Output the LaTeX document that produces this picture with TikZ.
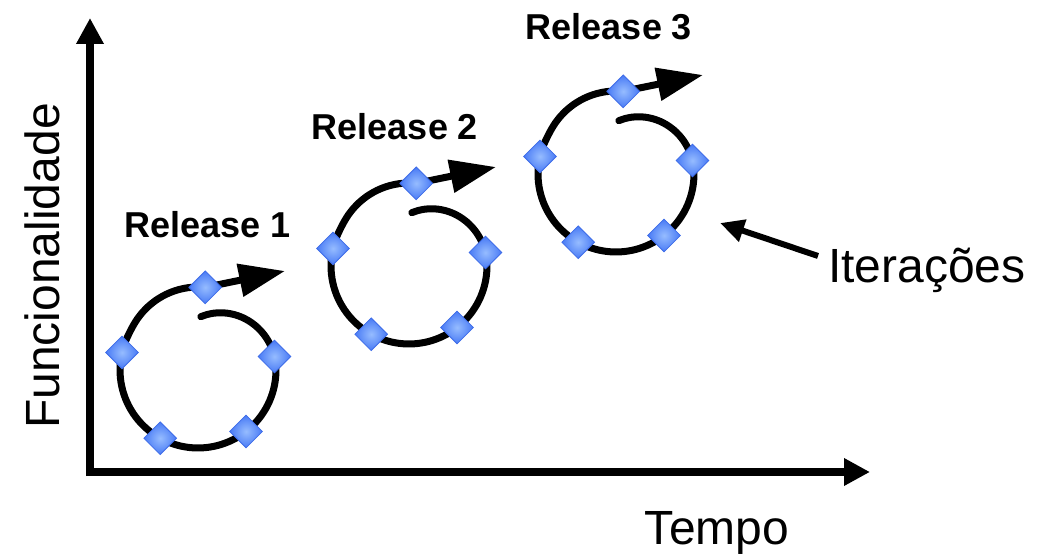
\documentclass[tikz,border=0pt]{standalone}
\usepackage{fontspec}
\setmainfont{Liberation Sans}
\usetikzlibrary{arrows.meta,shapes.geometric}
\definecolor{dia}{RGB}{92,142,250}
\definecolor{dialight}{RGB}{150,188,255}
\definecolor{diaout}{RGB}{72,122,245}
\definecolor{diadark}{RGB}{62,108,232}
\newcommand\drawspiral[3]{%
\begin{scope}[shift={(#2,#3)}]
 \coordinate (#1s) at ({198+rr(3)*sin(3)},{370-rr(3)*cos(3)});
 \coordinate (#1r) at ({198+rr(80)*sin(80)},{370-rr(80)*cos(80)});
 \coordinate (#1br) at ({198+rr(142)*sin(142)},{370-rr(142)*cos(142)});
 \coordinate (#1bl) at ({198+rr(209)*sin(209)},{370-rr(209)*cos(209)});
 \coordinate (#1l) at ({198+rr(283)*sin(283)},{370-rr(283)*cos(283)});
 \coordinate (#1t) at ({198+rr(365)*sin(365)},{370-rr(365)*cos(365)});
 \coordinate (#1tip) at (285,271);
 \draw[spiral] plot[smooth,variable=\p,domain=3:365,samples=60] ({198+rr(\p)*sin(\p)},{370-rr(\p)*cos(\p)});
 \draw[spiralarrow] (#1t) -- (#1tip);
 \foreach \n in {r,br,bl,l,t} \node[diabox] (#1\n-d) at (#1\n) {};
\end{scope}}
\begin{document}
\begin{tikzpicture}[x=1pt,y=-1pt,
 declare function={rr(\t)=(\t<90) ? 52+26*sin(\t) : ((\t<300) ? 78 : 78+5*sin((\t-300)*1.5));},
 axis/.style={line width=8pt,-{Triangle[length=26pt,width=26pt]}},
 spiral/.style={line width=7pt,line cap=round},
 spiralarrow/.style={line width=7pt,-{Triangle[length=46pt,width=32pt]}},
 pointer/.style={line width=6pt,-{Triangle[length=24pt,width=22pt]}},
 diabox/.style={diamond,inner color=dialight,outer color=diaout,draw=diadark,line width=0.8pt,minimum size=33pt,inner sep=0pt},
 rel/.style={font=\bfseries\fontsize{36}{40}\selectfont,anchor=base,inner sep=0pt},
 lab/.style={font=\fontsize{48}{56}\selectfont,inner sep=0pt}]
\useasboundingbox (0,0) rectangle (1045,556);
\coordinate (O) at (90,472);
\coordinate (Ytip) at (90,18);
\coordinate (Xtip) at (870,472);
\coordinate (Ostart) at (86,472);
\coordinate (Ybot) at (90,476);
\draw[axis] (Ybot) -- (Ytip);
\draw[axis] (Ostart) -- (Xtip);
\drawspiral{a}{0}{0}
\drawspiral{b}{211}{-104}
\drawspiral{c}{418}{-196}
\node[rel] (r1) at (208,238) {Release 1};
\node[rel] (r2) at (395,140) {Release 2};
\node[rel] (r3) at (609,40) {Release 3};
\node[lab,anchor=base west] (it) at (828,283) {Iterações};
\node[lab,anchor=base] (tempo) at (717,544) {Tempo};
\node[lab,anchor=base,rotate=90] (func) at (59,266) {Funcionalidade};
\coordinate (ittail) at (818,256);
\coordinate (ithead) at (720,223);
\draw[pointer] (ittail) -- (ithead);
\end{tikzpicture}
\end{document}
